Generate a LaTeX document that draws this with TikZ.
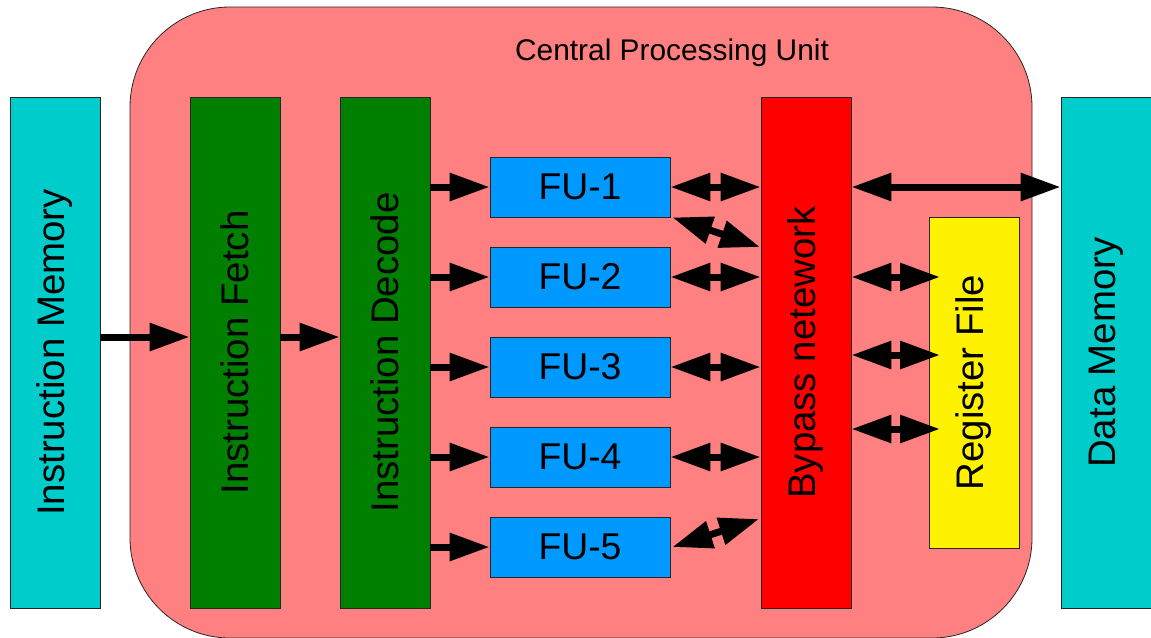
\documentclass[tikz,border=0pt]{standalone}
\usepackage{fontspec}
\setmainfont{Liberation Sans}
\usepackage{xcolor}
\usetikzlibrary{arrows.meta}

\definecolor{cpucol}{RGB}{255,128,128}
\definecolor{memcol}{RGB}{0,204,204}
\definecolor{stagecol}{RGB}{0,127,0}
\definecolor{fucol}{RGB}{0,153,255}

\begin{document}
\begin{tikzpicture}[x=0.75pt,y=0.75pt,yscale=-1,xscale=1,
  blk/.style={draw=black!85,line width=0.6pt,inner sep=0pt,font=\fontsize{28}{30}\selectfont},
  tallblk/.style={blk,rotate=90,minimum width=383.25pt,minimum height=67.5pt,font=\fontsize{28.8}{30}\selectfont},
  fublk/.style={blk,minimum width=135pt,minimum height=45pt},
  fat/.style={line width=5.25pt,-{Triangle[length=30pt,width=20pt]}},
  fatboth/.style={line width=5.25pt,{Triangle[length=30pt,width=20pt]}-{Triangle[length=30pt,width=20pt]}}]
\useasboundingbox (0,0) rectangle (1151,637);

%CPU frame
\draw [draw=black!85,line width=0.6pt,fill=cpucol,rounded corners=75pt] (130,7) rectangle (1032,638);
% Text Node
\node (cpu) at (672,53) {\fontsize{22.4}{24}\selectfont Central Processing Unit};

%Blocks
\node (im) [tallblk,fill=memcol] at (55,352.5) {Instruction Memory};
\node (if) [tallblk,fill=stagecol] at (235,352.5) {Instruction Fetch};
\node (id) [tallblk,fill=stagecol] at (385,352.5) {Instruction Decode};
\node (bp) [tallblk,fill=red] at (806,352.5) {Bypass netework};
\node (rf) [tallblk,fill=yellow,minimum width=248.25pt] at (974,382.5) {Register File};
\node (dm) [tallblk,fill=memcol] at (1106,352.5) {Data Memory};

\node (fu1) [fublk,fill=fucol] at (580,187) {FU-1};
\node (fu2) [fublk,fill=fucol] at (580,277) {FU-2};
\node (fu3) [fublk,fill=fucol] at (580,367) {FU-3};
\node (fu4) [fublk,fill=fucol] at (580,457) {FU-4};
\node (fu5) [fublk,fill=fucol] at (580,547) {FU-5};

%Helper points
\coordinate (row) at (0,337);
\coordinate (rfa) at (940,277);
\coordinate (rfb) at (940,355);
\coordinate (rfc) at (940,429);
\coordinate (dg1) at (760,247);
\coordinate (dg5) at (759,519);

%Arrows
\draw [fat] (im.south |- row) -- (if.north |- row);
\draw [fat] (if.south |- row) -- (id.north |- row);
\foreach \f in {fu1,fu2,fu3,fu4,fu5}
  \draw [fat] (id.south |- \f.west) -- (\f.west);
\foreach \f in {fu1,fu2,fu3,fu4}
  \draw [fatboth] (\f.east) -- (bp.north |- \f.east);
\draw [fatboth] ([xshift=1.5pt]fu1.south east) -- (dg1);
\draw [fatboth] ([xshift=1.5pt]fu5.east) -- (dg5);
\draw [fatboth] (bp.south |- fu1.east) -- (dm.north |- fu1.east);
\draw [fatboth] (bp.south |- rfa) -- (rfa);
\draw [fatboth] (bp.south |- rfb) -- (rfb);
\draw [fatboth] (bp.south |- rfc) -- (rfc);

\end{tikzpicture}
\end{document}
